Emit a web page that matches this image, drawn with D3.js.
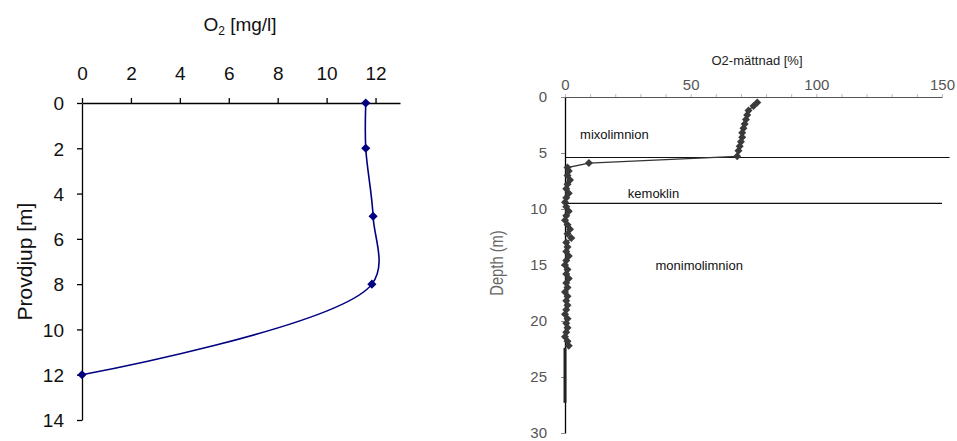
<!DOCTYPE html>
<html>
<head>
<meta charset="utf-8">
<script src="https://cdn.jsdelivr.net/npm/d3@7"></script>
<style>
  body { margin: 0; background: #fff; }
  .chart text { font-family: 'Liberation Sans', Arial, sans-serif; }
</style>
</head>
<body>
<div class="chart"></div>
<script>
const svgWidth = 957;
const svgHeight = 441;

// left chart: O2 concentration
const o2Depth = [0, 2, 5, 8, 12];
const o2Value = [11.6, 11.6, 11.9, 11.85, 0];
const o2Ticks = [0, 2, 4, 6, 8, 10, 12];
const o2DepthTicks = [0, 2, 4, 6, 8, 10, 12, 14];

// right chart: O2 saturation
const satDepth = [0.5, 0.8, 1.2, 1.6, 2.0, 2.4, 2.8, 3.2, 3.6, 4.0, 4.4, 4.8, 5.3,
  5.9, 6.3, 6.6, 7.0, 7.4, 7.8, 8.2, 8.6, 9.0, 9.4, 9.8, 10.2, 10.6, 11.0, 11.4,
  11.8, 12.2, 12.6, 13.0, 13.4, 13.8, 14.2, 14.6, 15.0, 15.4, 15.8, 16.2, 16.6,
  17.0, 17.4, 17.8, 18.2, 18.6, 19.0, 19.4, 19.8, 20.2, 20.6, 21.0, 21.4, 21.8, 22.2];
const satValue = [76.5, 75, 73, 72.5, 72, 71.5, 71, 70.5, 70.5, 70, 69.5, 69, 68.5,
  9.5, 1, 1.5, 1, 2, 1, 0.5, 1.5, 0.5, 0, 0.5, 1.5, 0.5, 0, 1, 2, 1, 2.5, 0.5,
  1, 0.5, 1.5, 0.5, 0, 1, 0.5, 1.5, 0.5, 1, 0, 1, 0.5, 1, 0.5, 0, 1, 0.5, 1,
  0.5, 0, 1, 1.5];
const tailDepth = [22.4, 27.3];
const tailValue = [0, 0];
const satTicks = [0, 50, 100, 150];
const satDepthTicks = [0, 5, 10, 15, 20, 25, 30];
const zoneLines = [
  { depth: 5.4, end: 153 },
  { depth: 9.5, end: 150 }
];
const zoneLabels = [
  { text: 'mixolimnion', x: 6, depth: 3.3 },
  { text: 'kemoklin', x: 25, depth: 8.6 },
  { text: 'monimolimnion', x: 36, depth: 15 }
];

const svg = d3.select('.chart')
  .append('svg')
  .attr('width', svgWidth)
  .attr('height', svgHeight);

svg.append('rect').attr('width', svgWidth).attr('height', svgHeight).attr('fill', '#fff');

// ---------- left chart ----------
const xLeft = d3.scaleLinear().domain([0, 13]).range([82, 400]);
const yLeft = d3.scaleLinear().domain([0, 14]).range([103, 420]);

const leftTop = svg.append('g')
  .attr('transform', `translate(0, ${yLeft(0)})`)
  .call(d3.axisTop(xLeft).tickValues(o2Ticks).tickSize(5).tickSizeOuter(0).tickPadding(18));

const leftAxisLeft = svg.append('g')
  .attr('transform', `translate(${xLeft(0)}, 0)`)
  .call(d3.axisLeft(yLeft).tickValues(o2DepthTicks).tickSize(5).tickSizeOuter(0).tickPadding(13));

[leftTop, leftAxisLeft].forEach(function(axis) {
  axis.selectAll('text')
    .attr('font-size', 19)
    .attr('fill', '#111')
    .attr('font-family', null);
  axis.selectAll('line, path').attr('stroke', '#000').attr('stroke-width', 1.3);
});
leftAxisLeft.selectAll('text').attr('dy', '0.36em');

const leftTitle = svg.append('text')
  .attr('x', 240)
  .attr('y', 31)
  .attr('text-anchor', 'middle')
  .attr('font-size', 19)
  .attr('fill', '#111');
leftTitle.append('tspan').text('O');
leftTitle.append('tspan').attr('font-size', 12).attr('dy', 4).text('2');
leftTitle.append('tspan').attr('dy', -4).text(' [mg/l]');

svg.append('text')
  .attr('transform', `translate(32, ${(yLeft(0) + yLeft(14)) / 2}) rotate(-90)`)
  .attr('text-anchor', 'middle')
  .attr('font-size', 21)
  .attr('fill', '#111')
  .text('Provdjup [m]');

const leftPoints = o2Depth.map((d, i) => ({ depth: d, value: o2Value[i] }));

svg.append('path')
  .datum(leftPoints)
  .attr('fill', 'none')
  .attr('stroke', '#000080')
  .attr('stroke-width', 1.6)
  .attr('d', d3.line()
    .x(d => xLeft(d.value))
    .y(d => yLeft(d.depth))
    .curve(d3.curveCatmullRom.alpha(0.5)));

svg.selectAll('.left-marker')
  .data(leftPoints)
  .enter()
  .append('path')
  .attr('class', 'left-marker')
  .attr('d', d3.symbol(d3.symbolSquare, 42))
  .attr('transform', d => `translate(${xLeft(d.value)}, ${yLeft(d.depth)}) rotate(45)`)
  .attr('fill', '#000080');

// ---------- right chart ----------
const xRight = d3.scaleLinear().domain([0, 150]).range([565, 942]);
const yRight = d3.scaleLinear().domain([0, 30]).range([97, 433]);

const rightTop = svg.append('g')
  .attr('transform', `translate(0, ${yRight(0)})`)
  .call(d3.axisTop(xRight).tickValues(d3.range(0, 151, 10)).tickSize(3).tickSizeOuter(0).tickPadding(4)
    .tickFormat(d => satTicks.includes(d) ? d : ''));

const rightLeft = svg.append('g')
  .attr('transform', `translate(${xRight(0)}, 0)`)
  .call(d3.axisLeft(yRight).tickValues(satDepthTicks).tickSize(4).tickSizeOuter(0).tickPadding(14));

rightTop.selectAll('text').attr('font-size', 15).attr('fill', '#555').attr('font-family', null);
rightTop.selectAll('.tick line').attr('stroke', '#bbb');
rightTop.select('.domain').attr('stroke', '#555');
rightLeft.selectAll('text').attr('font-size', 15).attr('fill', '#555').attr('font-family', null);
rightLeft.selectAll('.tick line').attr('stroke', '#888');
rightLeft.select('.domain').attr('stroke', '#000').attr('stroke-width', 1.3);

svg.append('text')
  .attr('x', 757)
  .attr('y', 65)
  .attr('text-anchor', 'middle')
  .attr('font-size', 13)
  .attr('fill', '#222')
  .text('O2-mättnad [%]');

// no narrow font installed, so squeeze this label horizontally
svg.append('text')
  .attr('transform', 'translate(503, 263) rotate(-90) scale(0.82, 1)')
  .attr('text-anchor', 'middle')
  .attr('font-size', 18)
  .attr('fill', '#666')
  .text('Depth (m)');

svg.selectAll('.zone-line')
  .data(zoneLines)
  .enter()
  .append('line')
  .attr('class', 'zone-line')
  .attr('x1', xRight(0))
  .attr('x2', d => xRight(d.end))
  .attr('y1', d => yRight(d.depth))
  .attr('y2', d => yRight(d.depth))
  .attr('stroke', '#111')
  .attr('stroke-width', 1.2);

svg.selectAll('.zone-label')
  .data(zoneLabels)
  .enter()
  .append('text')
  .attr('class', 'zone-label')
  .attr('x', d => xRight(d.x))
  .attr('y', d => yRight(d.depth))
  .attr('dy', '0.35em')
  .attr('font-size', 13)
  .attr('fill', '#111')
  .text(d => d.text);

const satPoints = satDepth.map((d, i) => ({ depth: d, value: satValue[i] }));
const tailPoints = tailDepth.map((d, i) => ({ depth: d, value: tailValue[i] }));

const satLine = d3.line()
  .x(d => xRight(d.value))
  .y(d => yRight(d.depth));

svg.append('path')
  .datum(satPoints)
  .attr('fill', 'none')
  .attr('stroke', '#333')
  .attr('stroke-width', 1.2)
  .attr('d', satLine);

svg.append('path')
  .datum(tailPoints)
  .attr('fill', 'none')
  .attr('stroke', '#222')
  .attr('stroke-width', 3)
  .attr('d', satLine);

svg.selectAll('.sat-marker')
  .data(satPoints)
  .enter()
  .append('path')
  .attr('class', 'sat-marker')
  .attr('d', d3.symbol(d3.symbolSquare, 32))
  .attr('transform', d => `translate(${xRight(d.value)}, ${yRight(d.depth)}) rotate(45)`)
  .attr('fill', '#3a3a3a');
</script>
</body>
</html>
